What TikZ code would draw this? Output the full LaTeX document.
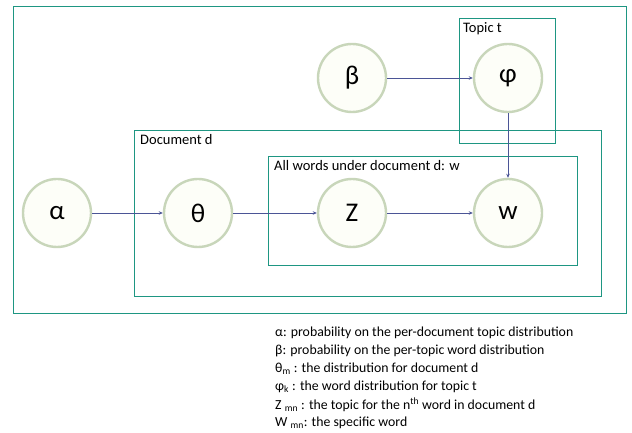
\documentclass[tikz,border=0pt]{standalone}
\usepackage{fontspec}
\setmainfont{Carlito}
\usetikzlibrary{arrows.meta}
\definecolor{frame}{RGB}{30,150,130}
\definecolor{ring}{RGB}{200,214,186}
\definecolor{arr}{RGB}{75,85,150}
\begin{document}
\begin{tikzpicture}[x=1bp,y=-1bp,
  var/.style={circle,draw=ring,line width=2.4bp,fill={rgb,255:red,253;green,254;blue,248},minimum size=68bp,inner sep=0pt,font=\fontsize{27bp}{30bp}\selectfont},
  plate/.style={draw=frame,line width=1bp},
  platelabel/.style={anchor=north west,inner sep=0pt,font=\fontsize{14.5bp}{17bp}\selectfont},
  edge/.style={draw=arr,line width=0.7bp,-{Stealth[length=4bp,width=3.5bp]}},
  legend/.style={anchor=west,inner sep=0pt,font=\fontsize{13.8bp}{17bp}\selectfont}]
\useasboundingbox (0,0) rectangle (632,433);
\fill[white] (0,0) rectangle (632,433);
% plates
\draw[plate] (13,7) rectangle (626,313);
\draw[plate] (459,19) rectangle (555,144);
\draw[plate] (134,131) rectangle (601,296);
\draw[plate] (268,157) rectangle (577,266);
\node[platelabel] (lt) at (463,22) {Topic t};
\node[platelabel] (ld) at (140,134) {Document d};
\node[platelabel] (lw) at (274,160) {All words under document d: w};
% variables
\node[var] (alpha) at (57,213) {α};
\node[var] (theta) at (198,213) {θ};
\node[var] (z) at (352,213) {Z};
\node[var] (w) at (508,213) {w};
\node[var] (beta) at (352,78) {β};
\node[var] (phi) at (508,78) {φ};
% edges
\draw[edge] (alpha) -- (theta);
\draw[edge] (theta) -- (z);
\draw[edge] (z) -- (w);
\draw[edge] (beta) -- (phi);
\draw[edge] (phi) -- (w);
% legend
\node[legend] (l1) at (275,333) {α: probability on the per-document topic distribution};
\node[legend] (l2) at (275,351) {β: probability on the per-topic word distribution};
\node[legend] (l3) at (275,369) {θ\textsubscript{m} : the distribution for document d};
\node[legend] (l4) at (275,387) {φ\textsubscript{k} : the word distribution for topic t};
\node[legend] (l5) at (275,405) {Z \textsubscript{mn} : the topic for the n\textsuperscript{th} word in document d};
\node[legend] (l6) at (275,423) {W \textsubscript{mn}: the specific word};
\end{tikzpicture}
\end{document}
